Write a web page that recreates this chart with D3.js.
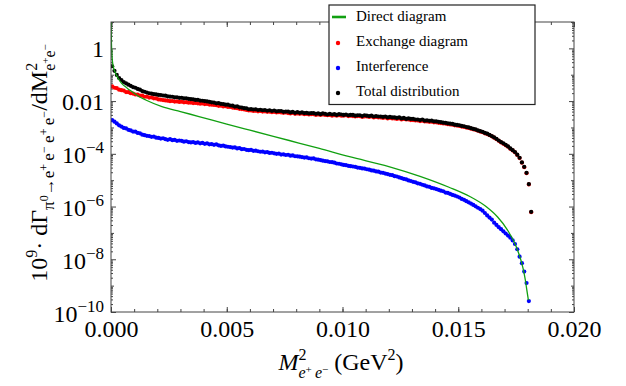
<!DOCTYPE html>
<html>
<head>
<meta charset="utf-8">
<script src="https://cdn.jsdelivr.net/npm/d3@7"></script>
<style>
  body { margin: 0; background: #fff; }
  svg { display: block; }
</style>
</head>
<body>
<div id="display"></div>
<script>
// bin centres of M^2_{e+e-} (GeV^2)
const massBins = [
  0.00005, 0.00015, 0.00025, 0.00035, 0.00045, 0.00055, 0.00065, 0.00075, 0.00085, 0.00095,
  0.00105, 0.00115, 0.00125, 0.00135, 0.00145, 0.00155, 0.00165, 0.00175, 0.00185, 0.00195,
  0.00205, 0.00215, 0.00225, 0.00235, 0.00245, 0.00255, 0.00265, 0.00275, 0.00285, 0.00295,
  0.00305, 0.00315, 0.00325, 0.00335, 0.00345, 0.00355, 0.00365, 0.00375, 0.00385, 0.00395,
  0.00405, 0.00415, 0.00425, 0.00435, 0.00445, 0.00455, 0.00465, 0.00475, 0.00485, 0.00495,
  0.00505, 0.00515, 0.00525, 0.00535, 0.00545, 0.00555, 0.00565, 0.00575, 0.00585, 0.00595,
  0.00605, 0.00615, 0.00625, 0.00635, 0.00645, 0.00655, 0.00665, 0.00675, 0.00685, 0.00695,
  0.00705, 0.00715, 0.00725, 0.00735, 0.00745, 0.00755, 0.00765, 0.00775, 0.00785, 0.00795,
  0.00805, 0.00815, 0.00825, 0.00835, 0.00845, 0.00855, 0.00865, 0.00875, 0.00885, 0.00895,
  0.00905, 0.00915, 0.00925, 0.00935, 0.00945, 0.00955, 0.00965, 0.00975, 0.00985, 0.00995,
  0.01005, 0.01015, 0.01025, 0.01035, 0.01045, 0.01055, 0.01065, 0.01075, 0.01085, 0.01095,
  0.01105, 0.01115, 0.01125, 0.01135, 0.01145, 0.01155, 0.01165, 0.01175, 0.01185, 0.01195,
  0.01205, 0.01215, 0.01225, 0.01235, 0.01245, 0.01255, 0.01265, 0.01275, 0.01285, 0.01295,
  0.01305, 0.01315, 0.01325, 0.01335, 0.01345, 0.01355, 0.01365, 0.01375, 0.01385, 0.01395,
  0.01405, 0.01415, 0.01425, 0.01435, 0.01445, 0.01455, 0.01465, 0.01475, 0.01485, 0.01495,
  0.01505, 0.01515, 0.01525, 0.01535, 0.01545, 0.01555, 0.01565, 0.01575, 0.01585, 0.01595,
  0.01605, 0.01615, 0.01625, 0.01635, 0.01645, 0.01655, 0.01665, 0.01675, 0.01685, 0.01695,
  0.01705, 0.01715, 0.01725, 0.01735, 0.01745, 0.01755, 0.01765, 0.01775, 0.01785, 0.01795,
  0.01805, 0.01815
];

const exchangeRate = [
  0.036, 0.032, 0.031, 0.027, 0.026, 0.025, 0.022, 0.0218, 0.0198, 0.0192,
  0.0178, 0.0177, 0.0163, 0.0160, 0.0146, 0.0148, 0.0136, 0.0138, 0.0127, 0.0126,
  0.0116, 0.0113, 0.0109, 0.0106, 0.0104, 0.0099, 0.0101, 0.0096, 0.0097, 0.0093,
  0.0095, 0.0090, 0.0091, 0.0087, 0.0088, 0.0084, 0.0085, 0.0082, 0.0080, 0.0081,
  0.0077, 0.0078, 0.0074, 0.0073, 0.0071, 0.0070, 0.0066, 0.0067, 0.0063, 0.0064,
  0.0060, 0.0060, 0.0057, 0.0055, 0.0054, 0.0051, 0.0050, 0.0048, 0.0046, 0.0044,
  0.0044, 0.0042, 0.0043, 0.0041, 0.0042, 0.0040, 0.0041, 0.0039, 0.0040, 0.0038,
  0.0039, 0.0037, 0.0038, 0.0037, 0.0036, 0.0037, 0.0035, 0.0034, 0.0036, 0.0033,
  0.0034, 0.0033, 0.0034, 0.0032, 0.0033, 0.0031, 0.0032, 0.0032, 0.0030, 0.0031,
  0.0030, 0.0031, 0.0030, 0.0029, 0.0030, 0.0028, 0.0029, 0.0028, 0.0029, 0.0028,
  0.0028, 0.0029, 0.0027, 0.0028, 0.0027, 0.0026, 0.0027, 0.0027, 0.0025, 0.0026,
  0.0026, 0.0025, 0.0026, 0.0024, 0.0025, 0.0024, 0.0024, 0.0023, 0.0024, 0.0022,
  0.0023, 0.0022, 0.0022, 0.0021, 0.0022, 0.0020, 0.0021, 0.0020, 0.0020, 0.0019,
  0.0019, 0.00185, 0.00185, 0.00175, 0.00180, 0.00168, 0.00170, 0.00163, 0.00165, 0.00157,
  0.00157, 0.00150, 0.00147, 0.00141, 0.00140, 0.00133, 0.00130, 0.00127, 0.00120, 0.00118,
  0.00114, 0.00108, 0.00105, 0.00099, 0.00096, 0.00090, 0.00085, 0.00081, 0.00075, 0.00070,
  0.00066, 0.00060, 0.00056, 0.00051, 0.00046, 0.00041, 0.00036, 0.00031, 0.00027, 0.00024,
  0.00021, 0.000185, 0.000155, 0.000134, 0.000114, 0.000090, 0.000069, 0.000046, 0.000031, 0.0000185,
  0.0000069, 0.00000061
];

const totalRate = [
  0.21, 0.14, 0.098, 0.075, 0.063, 0.053, 0.047, 0.042, 0.038, 0.034,
  0.032, 0.029, 0.027, 0.024, 0.0226, 0.0212, 0.0198, 0.0192, 0.0183, 0.0181,
  0.0172, 0.0170, 0.0163, 0.0160, 0.0152, 0.0149, 0.0146, 0.0139, 0.0140, 0.0133,
  0.0134, 0.0127, 0.0128, 0.0122, 0.0118, 0.0117, 0.0111, 0.0112, 0.0105, 0.0103,
  0.0100, 0.0097, 0.0094, 0.0090, 0.0088, 0.0082, 0.0083, 0.0078, 0.0077, 0.0073,
  0.0073, 0.0068, 0.0067, 0.0062, 0.0063, 0.0058, 0.0057, 0.0054, 0.0053, 0.0049,
  0.0050, 0.0048, 0.0049, 0.0046, 0.0047, 0.0045, 0.0046, 0.0043, 0.0045, 0.0042,
  0.0044, 0.0041, 0.0042, 0.0042, 0.0039, 0.0040, 0.0040, 0.0037, 0.0039, 0.0036,
  0.0038, 0.0036, 0.0037, 0.0035, 0.0036, 0.0034, 0.0035, 0.0035, 0.0033, 0.0034,
  0.0032, 0.0034, 0.0033, 0.0031, 0.0033, 0.0031, 0.0032, 0.0030, 0.0032, 0.0031,
  0.0030, 0.0031, 0.0029, 0.0030, 0.0030, 0.0028, 0.0029, 0.0029, 0.0027, 0.0029,
  0.0028, 0.0027, 0.0028, 0.0026, 0.0027, 0.0026, 0.0026, 0.0025, 0.0026, 0.0024,
  0.0025, 0.0024, 0.0024, 0.0023, 0.0024, 0.0022, 0.0023, 0.0021, 0.0022, 0.0021,
  0.0021, 0.0020, 0.0020, 0.0019, 0.0020, 0.0018, 0.00185, 0.00178, 0.00180, 0.00170,
  0.00170, 0.00163, 0.00158, 0.00152, 0.00150, 0.00143, 0.00139, 0.00136, 0.00128, 0.00125,
  0.00121, 0.00114, 0.00111, 0.00104, 0.00100, 0.00094, 0.00088, 0.00084, 0.00077, 0.00072,
  0.00068, 0.00062, 0.00058, 0.00052, 0.00047, 0.00042, 0.00037, 0.00032, 0.00028, 0.00025,
  0.00022, 0.00019, 0.00016, 0.000138, 0.000117, 0.000093, 0.000071, 0.000047, 0.000032, 0.000019,
  0.0000071, 0.00000063
];

// |interference|, one bin fewer than the other two
const interferenceRate = [
  1.9e-3, 1.65e-3, 1.42e-3, 1.2e-3, 1.08e-3, 9.6e-4, 9.2e-4, 8.1e-4, 7.7e-4, 7.0e-4,
  6.9e-4, 6.2e-4, 6.0e-4, 5.3e-4, 5.1e-4, 4.8e-4, 4.7e-4, 4.4e-4, 4.5e-4, 4.1e-4,
  4.0e-4, 3.8e-4, 3.9e-4, 3.6e-4, 3.4e-4, 3.6e-4, 3.3e-4, 3.4e-4, 3.1e-4, 3.2e-4,
  3.1e-4, 2.9e-4, 3.0e-4, 2.8e-4, 2.7e-4, 2.8e-4, 2.6e-4, 2.7e-4, 2.5e-4, 2.6e-4,
  2.4e-4, 2.5e-4, 2.3e-4, 2.35e-4, 2.2e-4, 2.3e-4, 2.1e-4, 2.0e-4, 2.05e-4, 1.9e-4,
  1.85e-4, 1.8e-4, 1.72e-4, 1.75e-4, 1.6e-4, 1.65e-4, 1.5e-4, 1.52e-4, 1.42e-4, 1.38e-4,
  1.4e-4, 1.3e-4, 1.32e-4, 1.25e-4, 1.2e-4, 1.22e-4, 1.14e-4, 1.16e-4, 1.08e-4, 1.1e-4,
  1.04e-4, 1.0e-4, 1.02e-4, 9.4e-5, 9.6e-5, 9.0e-5, 9.2e-5, 8.5e-5, 8.7e-5, 8.1e-5,
  8.0e-5, 7.8e-5, 7.5e-5, 7.2e-5, 7.3e-5, 6.8e-5, 6.6e-5, 6.7e-5, 6.2e-5, 6.0e-5,
  5.8e-5, 5.5e-5, 5.3e-5, 5.2e-5, 4.9e-5, 4.8e-5, 4.6e-5, 4.3e-5, 4.2e-5, 4.0e-5,
  3.8e-5, 3.7e-5, 3.5e-5, 3.4e-5, 3.3e-5, 3.2e-5, 3.0e-5, 2.95e-5, 2.8e-5, 2.75e-5,
  2.6e-5, 2.5e-5, 2.35e-5, 2.3e-5, 2.15e-5, 2.1e-5, 1.95e-5, 1.9e-5, 1.78e-5, 1.7e-5,
  1.6e-5, 1.55e-5, 1.42e-5, 1.38e-5, 1.27e-5, 1.2e-5, 1.12e-5, 1.07e-5, 9.8e-6, 9.3e-6,
  8.7e-6, 8.3e-6, 7.6e-6, 7.3e-6, 6.7e-6, 6.3e-6, 5.8e-6, 5.6e-6, 5.1e-6, 4.9e-6,
  4.6e-6, 4.3e-6, 4.0e-6, 3.8e-6, 3.4e-6, 3.3e-6, 3.0e-6, 2.75e-6, 2.6e-6, 2.4e-6,
  2.2e-6, 1.95e-6, 1.8e-6, 1.6e-6, 1.45e-6, 1.3e-6, 1.15e-6, 1.02e-6, 9.0e-7, 8.0e-7,
  7.0e-7, 5.7e-7, 4.6e-7, 3.8e-7, 3.2e-7, 2.45e-7, 2.0e-7, 1.65e-7, 1.38e-7, 1.15e-7,
  9.5e-8, 7.9e-8, 6.6e-8, 5.2e-8, 3.8e-8, 2.4e-8, 1.26e-8, 7.1e-9, 3.4e-9, 1.26e-9,
  2.6e-10
];

// direct diagram curve
const directMass = [
  0.000002, 0.00001, 0.00002, 0.00004, 0.000056, 0.0001, 0.00017, 0.0003, 0.00046, 0.0007,
  0.0009, 0.0012, 0.0015, 0.0022, 0.003, 0.0038, 0.005, 0.006, 0.0077, 0.009,
  0.0103, 0.012, 0.01335, 0.0146, 0.0155, 0.0162, 0.0167, 0.0171, 0.01752, 0.0178,
  0.0179, 0.01795, 0.01803
];
const directRate = [
  40, 5, 1.5, 0.55, 0.36, 0.2, 0.13, 0.075, 0.047, 0.031,
  0.023, 0.015, 0.011, 0.0062, 0.0040, 0.0026, 0.00135, 0.00079, 0.00032, 0.00016,
  7.8e-5, 3.3e-5, 1.4e-5, 5.4e-6, 2.4e-6, 1.0e-6, 4.0e-7, 1.4e-7, 2.8e-8, 4.5e-9,
  1.6e-9, 8e-10, 2.8e-10
];

const xTicks = [0, 0.005, 0.01, 0.015, 0.02];
const xTickLabels = ['0.000', '0.005', '0.010', '0.015', '0.020'];
const yTicks = [1e-10, 1e-8, 1e-6, 1e-4, 1e-2, 1];
const yTickLabels = [['10', '\u221210'], ['10', '\u22128'], ['10', '\u22126'],
  ['10', '\u22124'], ['0.01', ''], ['1', '']];
const legendLabels = ['Direct diagram', 'Exchange diagram', 'Interference', 'Total distribution'];

const W = 626;
const H = 386;
const margin = {top: 22, right: 52, bottom: 74, left: 111};
const width = W - margin.left - margin.right;
const height = H - margin.top - margin.bottom;
const green = '#11a011';
const serif = '"Liberation Serif", Tinos, "Times New Roman", "DejaVu Serif", serif';

const svg = d3.select('#display').append('svg')
    .attr('width', W)
    .attr('height', H)
    .attr('font-family', serif);

const g = svg.append('g')
    .attr('transform', 'translate(' + margin.left + ',' + margin.top + ')');

const x = d3.scaleLinear().domain([0, 0.02]).range([0, width]);
const y = d3.scaleLog().domain([1e-10, 10]).range([height, 0]);

svg.append('defs').append('clipPath').attr('id', 'clip')
    .append('rect').attr('width', width).attr('height', height);

// ticks (all pointing inward)
const minorX = d3.range(0, 21).map((i) => i * 0.001);
const minorY = [];
for (let e = -10; e <= 0; e++) {
  for (let m = 2; m <= 9; m++) minorY.push(m * Math.pow(10, e));
}
const oddDecades = [1e-9, 1e-7, 1e-5, 1e-3, 1e-1, 10];

function tickAxis(axis) {
  return g.append('g').call(axis)
      .attr('font-family', null)
      .call((s) => s.select('.domain').remove());
}

tickAxis(d3.axisBottom(x).tickValues(minorX).tickSize(-3).tickFormat(''))
    .attr('transform', 'translate(0,' + height + ')');
tickAxis(d3.axisTop(x).tickValues(minorX).tickSize(-3).tickFormat(''));
tickAxis(d3.axisLeft(y).tickValues(minorY).tickSize(-2).tickFormat(''));
tickAxis(d3.axisRight(y).tickValues(minorY).tickSize(-2).tickFormat(''))
    .attr('transform', 'translate(' + width + ',0)');
tickAxis(d3.axisLeft(y).tickValues(oddDecades).tickSize(-3).tickFormat(''));
tickAxis(d3.axisRight(y).tickValues(oddDecades).tickSize(-3).tickFormat(''))
    .attr('transform', 'translate(' + width + ',0)');
tickAxis(d3.axisRight(y).tickValues(yTicks).tickSize(-5).tickFormat(''))
    .attr('transform', 'translate(' + width + ',0)');
tickAxis(d3.axisTop(x).tickValues(xTicks).tickSize(-5).tickFormat(''));

const xAxis = tickAxis(d3.axisBottom(x).tickValues(xTicks).tickSize(-5)
    .tickPadding(8).tickFormat((d, i) => xTickLabels[i]))
    .attr('transform', 'translate(0,' + height + ')');
xAxis.selectAll('text').style('font-size', '24px');

const yAxis = tickAxis(d3.axisLeft(y).tickValues(yTicks).tickSize(-5)
    .tickPadding(7).tickFormat(''));
yAxis.selectAll('text').each(function(d, i) {
  const t = d3.select(this).attr('dy', null).attr('y', 8).style('font-size', '24px');
  const lab = yTickLabels[i];
  t.append('tspan').text(lab[0]).attr('dy', lab[1] ? 1 : 0);
  if (lab[1]) {
    t.append('tspan').text(lab[1]).style('font-size', '17px').attr('dy', -10);
  }
});

g.selectAll('.tick line').attr('stroke', '#444');

// data
const plot = g.append('g').attr('clip-path', 'url(#clip)');

function dots(values, color) {
  plot.append('g').selectAll('circle')
      .data(values.map((v, i) => [massBins[i], v]))
      .join('circle')
      .attr('cx', (d) => x(d[0]))
      .attr('cy', (d) => y(d[1]))
      .attr('r', 2.1)
      .attr('fill', color);
}

dots(exchangeRate, '#ff0000');
dots(totalRate, '#000000');
dots(interferenceRate, '#0000ff');

const line = d3.line()
    .x((d) => x(d[0]))
    .y((d) => y(d[1]))
    .curve(d3.curveMonotoneX);

plot.append('path')
    .datum(directMass.map((m, i) => [m, directRate[i]]))
    .attr('d', line)
    .attr('fill', 'none')
    .attr('stroke', green)
    .attr('stroke-width', 1.3);

// frame
g.append('rect')
    .attr('width', width)
    .attr('height', height)
    .attr('fill', 'none')
    .attr('stroke', '#444')
    .attr('stroke-width', 1);

// axis titles
const yTitle = svg.append('text')
    .attr('transform', 'translate(47,163) rotate(-90)')
    .attr('text-anchor', 'middle')
    .style('font-size', '24px');
const yParts = [
  ['10', 24, 0], ['9', 16, -10], ['\u00b7 d\u0393', 24, 10],
  ['\u03c0', 17, 7], ['0', 12, -6], ['\u2192e', 17, 6], ['+', 12, -6],
  ['\u2009e', 17, 6], ['\u2212', 12, -6], ['\u2009e', 17, 6], ['+', 12, -6],
  ['\u2009e', 17, 6], ['\u2212', 12, -6], ['/dM', 24, -1], ['2', 16, -10]
];
yParts.forEach((p) => {
  yTitle.append('tspan').text(p[0]).style('font-size', p[1] + 'px').attr('dy', p[2]);
});
yTitle.append('tspan').text('e').style('font-size', '16px').attr('dx', -8).attr('dy', 18);
yTitle.append('tspan').text('+').style('font-size', '11px').attr('dy', -6);
yTitle.append('tspan').text('e').style('font-size', '16px').attr('dy', 6);
yTitle.append('tspan').text('\u2212').style('font-size', '11px').attr('dy', -6);

const xTitle = svg.append('text')
    .attr('x', 341)
    .attr('y', 370)
    .attr('text-anchor', 'middle')
    .style('font-size', '24px');
xTitle.append('tspan').text('M').style('font-style', 'italic');
xTitle.append('tspan').text('2').style('font-size', '16px').attr('dy', -10);
xTitle.append('tspan').text('e').style('font-size', '16px')
    .style('font-style', 'italic').attr('dx', -8).attr('dy', 18);
xTitle.append('tspan').text('+').style('font-size', '11px').attr('dy', -5);
xTitle.append('tspan').text('\u2009e').style('font-size', '16px')
    .style('font-style', 'italic').attr('dy', 5);
xTitle.append('tspan').text('\u2212').style('font-size', '11px').attr('dy', -5);
xTitle.append('tspan').text(' (GeV').attr('dy', -3);
xTitle.append('tspan').text('2').style('font-size', '16px').attr('dy', -10);
xTitle.append('tspan').text(')').attr('dy', 10);

// legend
const legend = svg.append('g').attr('transform', 'translate(329,5)');
legend.append('rect')
    .attr('width', 206)
    .attr('height', 99.5)
    .attr('fill', '#fff')
    .attr('stroke', '#222')
    .attr('stroke-width', 1.2);
const legendColors = [green, '#ff0000', '#0000ff', '#000000'];
legendLabels.forEach((label, i) => {
  const row = legend.append('g').attr('transform', 'translate(0,' + (16 + i * 25) + ')');
  if (i === 0) {
    row.append('line').attr('x1', 3).attr('x2', 17).attr('y1', -4).attr('y2', -4)
        .attr('stroke', green).attr('stroke-width', 2.6);
  } else {
    row.append('circle').attr('cx', 9).attr('cy', -3).attr('r', 2.2)
        .attr('fill', legendColors[i]);
  }
  row.append('text').attr('x', 27).attr('y', 0).style('font-size', '15px').text(label);
});

svg.selectAll('text').style('font-family', serif).attr('fill', '#000');
</script>
</body>
</html>
